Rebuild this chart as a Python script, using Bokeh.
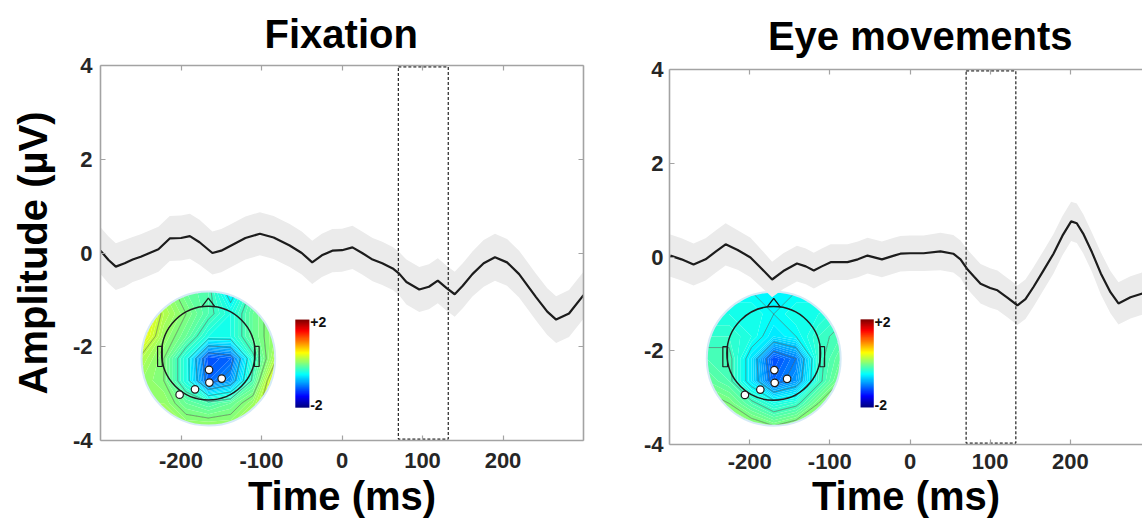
import numpy as np
from bokeh.plotting import figure
from bokeh.models import Range1d, LinearAxis, FixedTicker, Label, LinearColorMapper
from bokeh.layouts import row, column
from bokeh.embed import file_html
from bokeh.resources import INLINE
from bokeh.core.properties import value

# ---------------- data ----------------
titles = ["Fixation", "Eye movements"]
x_label = "Time (ms)"
y_label = "Amplitude (µV)"
x_ticks = [-200, -100, 0, 100, 200]
x_tick_labels = ["-200", "-100", "0", "100", "200"]
y_ticks = [-4, -2, 0, 2, 4]
y_tick_labels = ["-4", "-2", "0", "2", "4"]
window = [70, 132]          # analysis window (ms)
cbar_labels = ["+2", "-2"]
cbar_limits = [-2, 2]

fix_t = [-300, -290, -281, -270, -260, -250, -239, -228, -214, -200, -189, -177, -161, -150,
         -140, -120, -102, -85, -65, -50, -37, -25, -12, 0, 13, 25, 38, 50, 63, 71, 80, 96,
         108, 119, 130, 140, 150, 162, 176, 190, 205, 220, 241, 255, 266, 282, 300]
fix_v = [0.05, -0.15, -0.29, -0.22, -0.14, -0.08, 0.0, 0.08, 0.31, 0.32, 0.36, 0.23, 0.0, 0.05,
         0.14, 0.32, 0.41, 0.33, 0.16, 0.0, -0.2, -0.05, 0.05, 0.06, 0.12, 0.0, -0.14, -0.22,
         -0.33, -0.44, -0.62, -0.78, -0.72, -0.59, -0.75, -0.88, -0.7, -0.45, -0.22, -0.09,
         -0.2, -0.45, -0.94, -1.25, -1.42, -1.29, -0.9]
fix_sem = [0.5, 0.5, 0.5, 0.5, 0.48, 0.48, 0.48, 0.48, 0.48, 0.48, 0.48, 0.48, 0.46, 0.46,
           0.46, 0.46, 0.46, 0.46, 0.46, 0.46, 0.46, 0.46, 0.46, 0.46, 0.46, 0.46, 0.46, 0.46,
           0.46, 0.46, 0.48, 0.48, 0.48, 0.48, 0.48, 0.48, 0.48, 0.48, 0.5, 0.5, 0.5, 0.5,
           0.5, 0.5, 0.5, 0.5, 0.5]

eye_t = [-299, -285, -270, -255, -242, -230, -215, -199, -185, -172, -158, -141, -130, -120,
         -110, -99, -78, -65, -53, -35, -20, -12, 0, 17, 38, 54, 63, 71, 80, 88, 100, 109, 121,
         134, 144, 154, 166, 179, 190, 201, 208, 216, 227, 238, 250, 260, 275, 290]
eye_v = [0.03, -0.05, -0.16, -0.05, 0.12, 0.27, 0.15, -0.01, -0.25, -0.48, -0.3, -0.14, -0.2,
         -0.29, -0.2, -0.11, -0.11, -0.05, 0.03, -0.05, 0.03, 0.07, 0.08, 0.08, 0.12, 0.07,
         -0.05, -0.25, -0.42, -0.57, -0.66, -0.71, -0.86, -1.03, -0.9, -0.64, -0.3, 0.07, 0.45,
         0.76, 0.72, 0.5, 0.1, -0.35, -0.75, -0.99, -0.86, -0.78]
eye_sem = [0.45, 0.45, 0.45, 0.45, 0.45, 0.45, 0.42, 0.42, 0.4, 0.38, 0.38, 0.38, 0.38, 0.38,
           0.38, 0.38, 0.38, 0.38, 0.38, 0.38, 0.38, 0.38, 0.38, 0.38, 0.4, 0.4, 0.4, 0.42,
           0.42, 0.42, 0.42, 0.42, 0.42, 0.42, 0.42, 0.42, 0.42, 0.42, 0.42, 0.42, 0.42, 0.42,
           0.42, 0.45, 0.45, 0.45, 0.45, 0.45]

# topographic maps: 7x7 grid of amplitudes (µV), rows from front (top) to back (bottom)
topo_fix = [
    [0.3, 0.1, -0.1, -0.2, -0.6, -0.2, 0.0],
    [0.6, 0.2, 0.0, -0.2, -0.4, -0.1, 0.1],
    [0.5, 0.1, -0.1, -0.4, -0.4, -0.1, 0.1],
    [0.2, 0.0, -0.4, -1.2, -1.1, -0.3, 0.2],
    [0.1, 0.0, -0.4, -1.1, -0.9, -0.2, 0.5],
    [0.1, 0.1, -0.1, -0.2, -0.1, 0.1, 0.5],
    [0.2, 0.2, 0.1, 0.1, 0.1, 0.2, 0.3],
]
topo_eye = [
    [-0.5, -0.5, -0.5, -0.5, -0.5, -0.5, -0.5],
    [-0.4, -0.4, -0.4, -0.5, -0.4, -0.4, -0.3],
    [-0.3, -0.3, -0.4, -0.6, -0.5, -0.3, -0.2],
    [-0.2, -0.2, -0.6, -1.2, -1.0, -0.3, -0.1],
    [-0.1, -0.2, -0.6, -1.1, -0.9, -0.3, 0.0],
    [0.1, 0.0, -0.2, -0.4, -0.3, 0.0, 0.1],
    [0.3, 0.2, 0.1, 0.0, 0.1, 0.2, 0.3],
]
# highlighted electrodes (head-relative coordinates)
elec_u = [0.01, 0.015, 0.2, -0.2, -0.43]
elec_v = [-0.17, -0.36, -0.3, -0.46, -0.54]

# ---------------- helpers ----------------
FONT = "Liberation Sans"
AXIS_GREY = "#a3a3a3"


def jet(f):
    f = min(max(f, 0.0), 1.0)
    r = min(max(1.5 - abs(4 * f - 3), 0), 1)
    g = min(max(1.5 - abs(4 * f - 2), 0), 1)
    b = min(max(1.5 - abs(4 * f - 1), 0), 1)
    return "#%02x%02x%02x" % (int(r * 255), int(g * 255), int(b * 255))


JET = [jet(i / 255) for i in range(256)]


def style_axis(ax, standoff, labels=True):
    ax.axis_line_color = AXIS_GREY
    ax.axis_line_width = 1.6
    ax.major_tick_line_color = AXIS_GREY
    ax.major_tick_line_width = 1.2
    ax.major_tick_in = 5
    ax.major_tick_out = 0
    ax.minor_tick_out = 0
    ax.minor_tick_in = 0
    ax.minor_tick_line_color = None
    ax.major_label_standoff = standoff
    ax.major_label_text_font = FONT
    ax.major_label_text_font_style = "bold"
    if labels:
        ax.major_label_text_color = "#262626"
        ax.major_label_text_font_size = "22px"
    else:
        ax.major_label_text_color = None
        ax.major_label_text_font_size = "2px"


def add_topo(p, grid, cx, cy, rx, ry, cbx, cby, cbw, cbh):
    z = np.array(grid, dtype=float)[::-1]
    n = z.shape[0]
    us = np.linspace(-1, 1, n)
    xs = cx + us * rx
    ys = cy + us * ry
    fine = np.linspace(cbar_limits[0], cbar_limits[1], 81)
    fills = [jet(((a + b) / 2 - cbar_limits[0]) / (cbar_limits[1] - cbar_limits[0]))
             for a, b in zip(fine[:-1], fine[1:])]
    p.contour(xs, ys, z, fine, fill_color=fills)
    p.contour(xs, ys, z, np.arange(-2, 2.01, 0.25), line_color="#2a2a2a", line_alpha=0.6,
              line_width=0.7)
    th = np.linspace(0, 2 * np.pi, 181)
    hx = list(cx + rx * np.cos(th))
    hy = list(cy + ry * np.sin(th))
    ox = [cx - 1.08 * rx, cx + 1.08 * rx, cx + 1.08 * rx, cx - 1.08 * rx]
    oy = [cy - 1.08 * ry, cy - 1.08 * ry, cy + 1.08 * ry, cy + 1.08 * ry]
    p.multi_polygons(xs=[[[ox, hx]]], ys=[[[oy, hy]]], fill_color="white", line_color=None)
    p.ellipse(x=cx, y=cy, width=2 * rx, height=2 * ry, fill_color=None,
              line_color="#d4eaf6", line_width=2.0)
    # head
    p.ellipse(x=cx, y=cy + 0.08 * ry, width=1.40 * rx, height=1.40 * ry, fill_color=None,
              line_color="#1e1e1e", line_width=1.5)
    p.line([cx - 0.1 * rx, cx, cx + 0.1 * rx], [cy + 0.77 * ry, cy + 0.9 * ry, cy + 0.77 * ry],
           line_color="#1e1e1e", line_width=1.3)
    p.rect(x=[cx - 0.725 * rx, cx + 0.725 * rx], y=[cy + 0.03 * ry] * 2, width=0.07 * rx,
           height=0.3 * ry, fill_color=None, line_color="#1e1e1e", line_width=1.2)
    p.scatter(x=list(cx + np.array(elec_u) * rx), y=list(cy + np.array(elec_v) * ry), size=7.5,
              fill_color="white", line_color="#1e1e1e", line_width=1.2)
    # colour bar
    grad = np.linspace(cbar_limits[0], cbar_limits[1], 128).reshape(128, 1)
    mapper = LinearColorMapper(palette=JET, low=cbar_limits[0], high=cbar_limits[1])
    p.image(image=[grad], x=cbx, y=cby, dw=cbw, dh=cbh, color_mapper=mapper)
    for lab, yy in zip(cbar_labels, [cby + cbh - 0.06, cby + 0.06]):
        p.add_layout(Label(x=cbx + cbw + 1, y=yy, text=lab, text_align="left",
                           text_baseline="middle", text_font=FONT, text_font_style="bold",
                           text_font_size="14px", text_color="#111111"))


def make_title(text, width, height, cx, cy):
    # strip above a panel; coordinates are pixels, y measured from the top
    tf = figure(width=width, height=height, x_range=Range1d(0, width),
                y_range=Range1d(height, 0), output_backend="svg", toolbar_location=None,
                x_axis_type=None, y_axis_type=None, min_border=0)
    tf.grid.visible = False
    tf.outline_line_color = None
    tf.text(x=[cx], y=[cy], text=[text], text_align="center", text_baseline="middle",
            text_font=value(FONT), text_font_style="bold", text_font_size="40px",
            text_color="#000000")
    return tf


def make_panel(t, v, sem, grid, cfg):
    p = figure(width=cfg["width"], height=cfg["height"], x_range=Range1d(-300, cfg["xend"]),
               y_range=Range1d(-4, 4), output_backend="svg", toolbar_location=None,
               min_border_left=cfg["bl"], min_border_right=cfg["br"], min_border_top=cfg["bt"],
               min_border_bottom=cfg["bb"])
    p.grid.visible = False
    p.outline_line_color = None
    p.xaxis.ticker = FixedTicker(ticks=x_ticks)
    p.yaxis.ticker = FixedTicker(ticks=y_ticks)
    p.xaxis.major_label_overrides = dict(zip(x_ticks, x_tick_labels))
    p.yaxis.major_label_overrides = dict(zip(y_ticks, y_tick_labels))
    style_axis(p.xaxis[0], cfg["xso"])
    style_axis(p.yaxis[0], cfg["yso"])
    p.xaxis.axis_label = x_label
    p.xaxis.axis_label_text_font = FONT
    p.xaxis.axis_label_text_font_style = "bold"
    p.xaxis.axis_label_text_font_size = "40px"
    p.xaxis.axis_label_text_color = "#000000"
    p.xaxis.axis_label_standoff = cfg["xlso"]
    if cfg["ylabel"]:
        p.yaxis.axis_label = y_label
        p.yaxis.axis_label_text_font = FONT
        p.yaxis.axis_label_text_font_style = "bold"
        p.yaxis.axis_label_text_font_size = "40px"
        p.yaxis.axis_label_text_color = "#000000"
        p.yaxis.axis_label_standoff = 15

    top = LinearAxis(ticker=FixedTicker(ticks=x_ticks))
    style_axis(top, 0, labels=False)
    p.add_layout(top, "above")
    if cfg["right_axis"]:
        ra = LinearAxis(ticker=FixedTicker(ticks=y_ticks))
        style_axis(ra, 0, labels=False)
        p.add_layout(ra, "right")

    add_topo(p, grid, *cfg["topo"])

    t = np.array(t, dtype=float)
    v = np.array(v, dtype=float)
    s = np.array(sem, dtype=float)
    p.varea(x=t, y1=v - s, y2=v + s, fill_color="#ebebeb")
    p.line(t, v, line_color="#1c1c1c", line_width=2.2)
    p.quad(left=window[0], right=window[1], bottom=-3.97, top=3.97, fill_color=None,
           line_color="#222222", line_dash="3 2", line_width=1.2)
    return p


W1, W2 = 608, 534
T1, T2 = 54, 58
H1, H2 = 525 - T1, 525 - T2

cfg_fix = dict(width=W1, height=H1, xend=300, bl=100, br=25, bt=65 - T1, bb=H1 - 375 - (65 - T1),
               xso=12, yso=8, xlso=3, right_axis=True, ylabel=True,
               topo=(-166, -2.25, 83, 1.43, -58, -3.30, 17.5, 1.88))
cfg_eye = dict(width=W2, height=H2, xend=290, bl=61, br=0, bt=69 - T2, bb=H2 - 375 - (69 - T2),
               xso=9, yso=6, xlso=2, right_axis=False, ylabel=False,
               topo=(-170, -2.17, 83.5, 1.43, -61.7, -3.21, 16.5, 1.88))

t1 = make_title(titles[0], W1, T1, 303, 33)
t2 = make_title(titles[1], W2, T2, 283, 35)
p1 = make_panel(fix_t, fix_v, fix_sem, topo_fix, cfg_fix)
p2 = make_panel(eye_t, eye_v, eye_sem, topo_eye, cfg_eye)

layout = row(column(t1, p1), column(t2, p2))
open("out.html", "w").write(file_html(layout, INLINE))
